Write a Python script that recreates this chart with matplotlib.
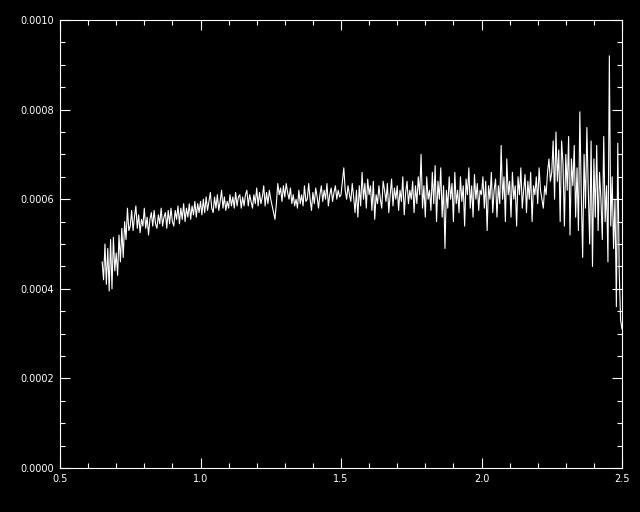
import numpy as np
import matplotlib
matplotlib.use("Agg")
import matplotlib.pyplot as plt
from matplotlib.ticker import MultipleLocator, FormatStrFormatter

# --- data (flux in units of 1e-4) ---
x_start = 0.65
x_end = 2.5

flux_a = [4.6, 4.2, 5.0, 4.1, 4.9, 3.95, 5.1, 4.0, 5.15, 4.4, 4.8, 4.3, 5.2, 4.6, 5.35, 4.7, 5.5, 5.1, 5.8, 5.3]
flux_b = [5.4, 5.75, 5.3, 5.6, 5.85, 5.35, 5.65, 5.25, 5.55, 5.4, 5.8, 5.35, 5.6, 5.2, 5.55, 5.7, 5.4, 5.75, 5.45, 5.35,
          5.65, 5.45, 5.8, 5.4, 5.6, 5.7, 5.35, 5.75, 5.45, 5.8, 5.5, 5.4, 5.75, 5.55, 5.85, 5.45, 5.8, 5.55, 5.9, 5.5,
          5.8, 5.6, 5.9, 5.55, 5.85, 5.65, 5.95, 5.6, 5.9, 5.7]
flux_c = [5.95, 5.65, 6.0, 5.7, 6.05, 5.75, 5.95, 6.15, 5.8, 5.7, 6.05, 5.8, 6.1, 5.75, 5.95, 6.2, 5.8, 6.05, 5.75, 5.95,
          5.8, 6.1, 5.85, 6.05, 5.8, 6.15, 5.85, 6.05, 6.1, 5.8, 6.05, 5.85, 6.1, 6.2, 5.85, 6.1, 5.95, 5.8, 6.1, 5.9,
          6.25, 5.85, 6.15, 5.9, 6.05, 6.3, 5.85, 6.15, 5.9, 6.2]
flux_d = [6.0, 5.85, 5.7, 5.55, 5.9, 6.35, 6.1, 6.25, 5.95, 6.3, 6.05, 6.35, 6.15, 6.0, 6.25, 5.9, 6.1, 5.85, 6.0, 5.8,
          6.2, 5.9, 6.1, 5.85, 6.3, 5.95, 6.0, 6.35, 6.0, 5.75, 6.15, 5.9, 6.25, 6.05, 5.8, 6.1, 6.3, 5.95, 6.2, 6.0,
          6.35, 5.85, 6.1, 6.25, 5.95, 6.15, 6.3, 6.0, 6.2, 6.05]
flux_e = [6.1, 6.4, 6.7, 6.2, 6.0, 6.3, 6.1, 5.95, 6.35, 6.05, 5.7, 6.2, 5.6, 6.3, 5.85, 6.6, 6.0, 6.35, 5.8, 6.45,
          6.1, 6.3, 5.75, 6.4, 5.55, 6.1, 5.9, 6.3, 6.0, 5.8, 6.4, 6.2, 5.95, 6.35, 5.7, 6.1, 6.45, 5.85, 6.25, 6.0,
          6.3, 5.75, 6.2, 5.95, 6.5, 5.65, 6.15, 6.4, 5.9, 6.2]
flux_f = [6.0, 6.4, 5.7, 6.3, 5.9, 6.5, 6.1, 7.0, 5.8, 6.3, 5.6, 6.5, 6.0, 6.2, 5.75, 6.6, 5.9, 6.75, 5.5, 6.4,
          6.0, 6.7, 5.6, 6.3, 4.9, 6.2, 5.8, 6.5, 6.0, 6.35, 5.5, 6.6, 5.9, 6.2, 5.7, 6.5, 5.95, 6.3, 5.4, 6.45,
          6.1, 6.7, 5.8, 6.3, 5.6, 6.55, 6.0, 6.35, 5.75, 6.2]
flux_g = [6.1, 6.5, 5.8, 6.4, 5.3, 6.3, 6.0, 6.6, 5.7, 6.2, 6.45, 5.6, 6.3, 5.9, 7.2, 6.0, 6.5, 5.5, 6.9, 6.1,
          6.4, 5.6, 6.6, 6.0, 6.3, 5.4, 6.5, 6.1, 6.7, 5.8, 6.2, 6.55, 5.7, 6.4, 6.0, 6.6, 5.5, 6.3, 6.1, 6.5,
          5.9, 6.7, 6.2, 6.0, 5.8, 6.3, 6.1, 6.6, 6.9, 6.4]
flux_h = [6.6, 7.3, 6.0, 7.5, 6.4, 7.1, 5.5, 7.3, 6.8, 5.4, 7.0, 6.2, 7.4, 5.2, 6.9, 6.3, 7.2, 5.6, 6.7, 5.3,
          7.95, 6.1, 4.7, 7.0, 5.8, 7.6, 6.2, 5.0, 7.3, 4.5, 6.9, 5.6, 7.2, 5.3, 6.6, 6.0, 5.1, 7.4, 5.5, 6.3,
          4.6, 9.2, 5.4, 6.5, 4.9, 6.0, 3.6, 7.25, 4.4, 3.3, 3.1]

flux = np.array(flux_a + flux_b + flux_c + flux_d + flux_e + flux_f + flux_g + flux_h) * 1e-4
wave = np.linspace(x_start, x_end, len(flux))

# --- plot ---
plt.rcParams['font.family'] = 'DejaVu Sans'
fig = plt.figure(figsize=(6.4, 5.12), dpi=100, facecolor='black')
ax = fig.add_axes([60 / 640, 44 / 512, 562 / 640, 448 / 512])
ax.set_facecolor('black')

ax.plot(wave, flux, color='white', lw=0.8)

ax.set_xlim(0.5, 2.5)
ax.set_ylim(0, 0.0010)
ax.xaxis.set_major_locator(MultipleLocator(0.5))
ax.xaxis.set_minor_locator(MultipleLocator(0.1))
ax.yaxis.set_major_locator(MultipleLocator(0.0002))
ax.yaxis.set_minor_locator(MultipleLocator(0.00005))
ax.xaxis.set_major_formatter(FormatStrFormatter('%.1f'))
ax.yaxis.set_major_formatter(FormatStrFormatter('%.4f'))

for s in ax.spines.values():
    s.set_color('white')
    s.set_linewidth(0.8)
ax.tick_params(which='both', direction='in', colors='white', top=True, right=True, width=0.8)
ax.tick_params(which='major', length=7, labelsize=7, pad=4)
ax.tick_params(which='minor', length=3.5)

fig.savefig('out.png', dpi=100, facecolor='black')
